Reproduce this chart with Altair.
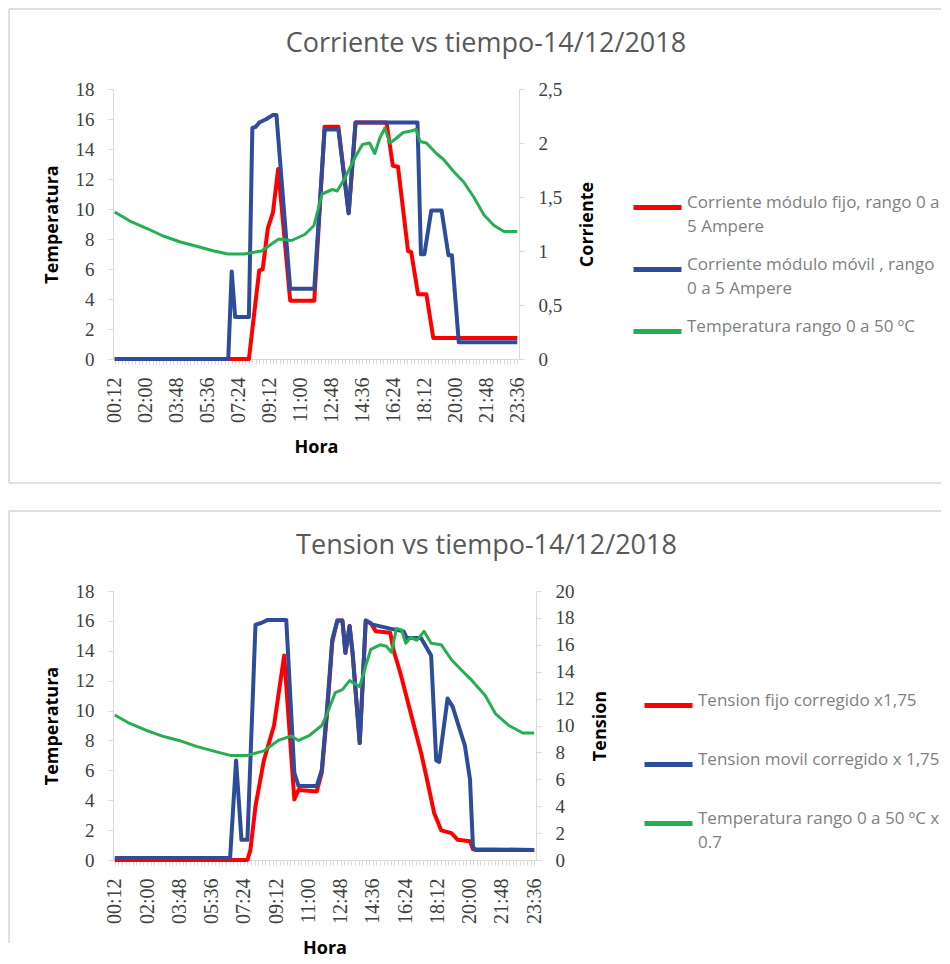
import altair as alt
import pandas as pd

# ---------------- data ----------------
# Panel 1: Corriente (A, right axis) and Temperatura (left axis)
SER_I = ["Corriente módulo fijo, rango 0 a\n5 Ampere",
         "Corriente módulo móvil , rango\n0 a 5 Ampere",
         "Temperatura rango 0 a 50 ºC"]

top_fijo_hora = ["00:12", "08:00", "08:36", "08:48", "09:06", "09:24", "09:42", "10:24", "11:48", "12:24",
                 "13:12", "13:48", "14:12", "16:00", "16:22", "16:40", "17:15", "17:26", "17:50", "18:19",
                 "18:43", "23:36"]
top_fijo_amp = [0, 0, 0.82, 0.83, 1.21, 1.36, 1.76, 0.54, 0.54, 2.15,
                2.15, 1.35, 2.19, 2.19, 1.79, 1.78, 1.00, 0.99, 0.60, 0.60,
                0.195, 0.195]

top_movil_hora = ["00:12", "06:48", "07:00", "07:12", "08:00", "08:12", "08:24", "08:36", "09:00", "09:24",
                  "09:36", "10:24", "11:48", "12:24", "13:12", "13:48", "14:12", "17:48", "18:00", "18:12",
                  "18:36", "19:12", "19:36", "19:48", "20:12", "23:36"]
top_movil_amp = [0, 0, 0.81, 0.39, 0.39, 2.14, 2.15, 2.19, 2.22, 2.26,
                 2.26, 0.65, 0.65, 2.125, 2.125, 1.35, 2.19, 2.19, 0.97, 0.97,
                 1.375, 1.375, 0.96, 0.96, 0.155, 0.155]

top_temp_hora = ["00:12", "01:05", "02:05", "03:01", "04:01", "05:01", "05:58", "06:47", "07:44", "08:44",
                 "09:44", "10:29", "11:15", "11:47", "12:15", "12:51", "13:08", "13:33", "14:12", "14:36",
                 "15:01", "15:19", "15:36", "15:54", "16:12", "16:33", "16:58", "17:26", "17:43", "17:57",
                 "18:19", "18:54", "19:19", "19:54", "20:29", "21:04", "21:40", "22:15", "22:50", "23:36"]
top_temp_val = [9.8, 9.2, 8.7, 8.2, 7.8, 7.5, 7.2, 7.0, 7.0, 7.2,
                8.0, 7.9, 8.3, 8.9, 11.0, 11.3, 11.2, 12.0, 13.5, 14.3,
                14.4, 13.7, 14.7, 15.4, 14.4, 14.7, 15.1, 15.2, 15.3, 14.5,
                14.4, 13.7, 13.3, 12.5, 11.8, 10.8, 9.6, 8.9, 8.5, 8.5]

# Panel 2: Tension (right axis) and Temperatura (left axis)
SER_V = ["Tension fijo corregido x1,75",
         "Tension movil corregido x 1,75",
         "Temperatura rango 0 a 50 ºC x\n0.7"]

bot_fijo_hora = ["00:12", "07:36", "07:46", "08:03", "08:31", "09:05", "09:39", "10:13", "10:27", "11:28",
                 "11:45", "12:03", "12:20", "12:37", "12:54", "13:04", "13:18", "13:28", "13:52", "14:12",
                 "14:29", "14:46", "15:34", "15:45", "16:08", "16:43", "17:17", "17:37", "18:01", "18:25",
                 "18:59", "19:20", "20:01", "20:11", "23:36"]
bot_fijo_v = [0, 0, 0.75, 4.0, 7.4, 10.0, 15.2, 4.5, 5.2, 5.1,
              6.5, 11.0, 16.2, 17.8, 17.8, 15.4, 17.4, 15.4, 8.7, 17.8,
              17.6, 17.0, 16.9, 15.6, 13.9, 10.9, 8.0, 6.0, 3.5, 2.2,
              2.0, 1.5, 1.4, 0.8, 0.75]

bot_movil_hora = ["00:12", "06:38", "06:58", "07:16", "07:36", "08:03", "08:20", "08:44", "09:46", "10:13",
                  "10:27", "11:28", "11:45", "12:03", "12:20", "12:37", "12:54", "13:04", "13:18", "13:28",
                  "13:52", "14:12", "14:36", "15:34", "16:19", "16:29", "17:17", "17:51", "18:08", "18:18",
                  "18:46", "19:03", "19:27", "19:44", "20:01", "20:11", "20:18", "23:36"]
bot_movil_v = [0.15, 0.15, 7.4, 1.5, 1.5, 17.5, 17.6, 17.85, 17.85, 6.5,
               5.5, 5.5, 6.7, 11.4, 16.4, 17.8, 17.8, 15.4, 17.4, 15.4,
               8.7, 17.8, 17.5, 17.2, 17.0, 16.5, 16.5, 15.2, 7.4, 7.3,
               12.0, 11.4, 9.7, 8.5, 6.0, 1.0, 0.75, 0.75]

bot_temp_hora = ["00:12", "00:56", "01:54", "02:49", "03:47", "04:45", "05:40", "06:38", "07:36", "08:31",
                 "09:19", "10:03", "10:27", "11:01", "11:45", "12:03", "12:30", "12:54", "13:18", "13:52",
                 "14:12", "14:29", "15:00", "15:21", "15:38", "15:55", "16:12", "16:26", "16:43", "17:03",
                 "17:27", "17:51", "18:25", "18:59", "19:33", "20:08", "20:52", "21:26", "22:11", "22:58",
                 "23:36"]
bot_temp_val = [9.7, 9.2, 8.7, 8.3, 8.0, 7.6, 7.3, 7.0, 7.0, 7.3,
                8.0, 8.3, 8.0, 8.3, 9.0, 9.8, 11.2, 11.4, 12.0, 11.6,
                13.0, 14.1, 14.4, 14.3, 13.9, 15.5, 15.4, 14.5, 14.9, 14.7,
                15.3, 14.5, 14.4, 13.4, 12.7, 12.0, 11.0, 9.8, 9.0, 8.5,
                8.5]

RED, BLUE, GREEN = "#FF0000", "#2D4D9B", "#27AE52"


def to_min(h):
    hh, mm = h.split(":")
    return int(hh) * 60 + int(mm)


def make_df(horas, vals, serie):
    return pd.DataFrame({"minuto": [to_min(h) for h in horas], "valor": vals, "serie": serie})


# ---------------- styling helpers ----------------
AX = dict(grid=False, domainColor="#D9D9D9", tickColor="#D9D9D9", tickSize=5,
          labelFont="Liberation Serif", labelColor="#404040",
          titleFont="Open Sans", titleFontSize=18, titleFontWeight="bold", titleColor="#000000")

X_LABEL = ("(datum.value - 12) % 108 == 0 ? "
           "((floor(datum.value / 60) < 10 ? '0' : '') + floor(datum.value / 60) + ':' + "
           "(datum.value % 60 < 10 ? '0' : '') + (datum.value % 60)) : ''")


def panel(title, dx, width, height, dfs, series, right_title, right_domain, right_values,
          legend_x, legend_y, row_pad, bottom_edge):
    x = alt.X("minuto:Q",
              scale=alt.Scale(domain=[6, 1422], nice=False, zero=False),
              axis=alt.Axis(values=list(range(12, 1417, 12)), labelExpr=X_LABEL, labelAngle=270,
                            labelOverlap=False, labelPadding=13, labelFontSize=20,
                            title="Hora", titlePadding=16, **AX))
    color = alt.Color("serie:N",
                      scale=alt.Scale(domain=series, range=[RED, BLUE, GREEN]),
                      legend=alt.Legend(title=None, orient="none", legendX=legend_x, legendY=legend_y,
                                        symbolType="stroke", symbolSize=2304, symbolStrokeWidth=5,
                                        labelFont="Open Sans", labelFontSize=17, labelColor="#7F7F7F",
                                        labelLimit=300, labelExpr="split(datum.label, '\\n')",
                                        labelBaseline="alphabetic", labelOffset=3, rowPadding=row_pad,
                                        padding=0))
    y_right = alt.Y("valor:Q",
                    scale=alt.Scale(domain=right_domain, nice=False, zero=True),
                    axis=alt.Axis(orient="right", title=right_title, values=right_values,
                                  labelExpr="replace(format(datum.value, '.1~f'), '.', ',')",
                                  labelPadding=14, labelFontSize=19, titleAngle=270,
                                  titleBaseline="top", titlePadding=17, **AX))
    y_left = alt.Y("valor:Q",
                   scale=alt.Scale(domain=[0, 18], nice=False, zero=True),
                   axis=alt.Axis(orient="left", title="Temperatura", values=list(range(0, 19, 2)),
                                 labelPadding=14, labelFontSize=19, titlePadding=14, **AX))

    red = alt.Chart(dfs[0]).mark_line(strokeWidth=4, strokeJoin="round").encode(x=x, y=y_right, color=color)
    blue = alt.Chart(dfs[1]).mark_line(strokeWidth=4, strokeJoin="round").encode(x=x, y=y_right, color=color)
    green = alt.Chart(dfs[2]).mark_line(strokeWidth=3, strokeJoin="round").encode(x=x, y=y_left, color=color)

    one = pd.DataFrame({"k": [0]})
    frame_style = dict(color="#D4D4D4", strokeWidth=1.5)
    rules = [
        alt.Chart(one).mark_rule(**frame_style).encode(
            x=alt.value(-104), x2=alt.value(828), y=alt.value(-80), y2=alt.value(-80)),
        alt.Chart(one).mark_rule(**frame_style).encode(
            x=alt.value(-104), x2=alt.value(-104), y=alt.value(-80), y2=alt.value(bottom_edge)),
    ]
    if bottom_edge >= 380:
        rules.append(alt.Chart(one).mark_rule(**frame_style).encode(
            x=alt.value(-104), x2=alt.value(828), y=alt.value(bottom_edge), y2=alt.value(bottom_edge)))

    curves = alt.layer(red, blue)
    return alt.layer(curves, green, *rules).resolve_scale(y="independent").properties(
        width=width, height=height,
        title=alt.TitleParams(text=title, font="Open Sans", fontSize=27, fontWeight="normal",
                              color="#595959", anchor="middle", frame="group", dx=dx, offset=-50))


top = panel("Corriente vs tiempo-14/12/2018", 170, 406, 270,
            [make_df(top_fijo_hora, top_fijo_amp, SER_I[0]),
             make_df(top_movil_hora, top_movil_amp, SER_I[1]),
             make_df(top_temp_hora, top_temp_val, SER_I[2])],
            SER_I, "Corriente", [0, 2.5], [0, 0.5, 1, 1.5, 2, 2.5], 518, 92, 8, 394)

bottom = panel("Tension vs tiempo-14/12/2018", 162, 423, 269,
               [make_df(bot_fijo_hora, bot_fijo_v, SER_V[0]),
                make_df(bot_movil_hora, bot_movil_v, SER_V[1]),
                make_df(bot_temp_hora, bot_temp_val, SER_V[2])],
               SER_V, "Tension", [0, 20], list(range(0, 21, 2)), 529, 88, 22, 352)

chart = alt.vconcat(top, bottom, spacing=26).resolve_scale(color="independent").resolve_legend(
    color="independent").configure(
    view=alt.ViewConfig(stroke=None),
    style={"guide-label": {"lineHeight": 24}},
).properties(padding=0, background="white")

chart.save("out.html", embed_options={"renderer": "svg", "actions": False})
